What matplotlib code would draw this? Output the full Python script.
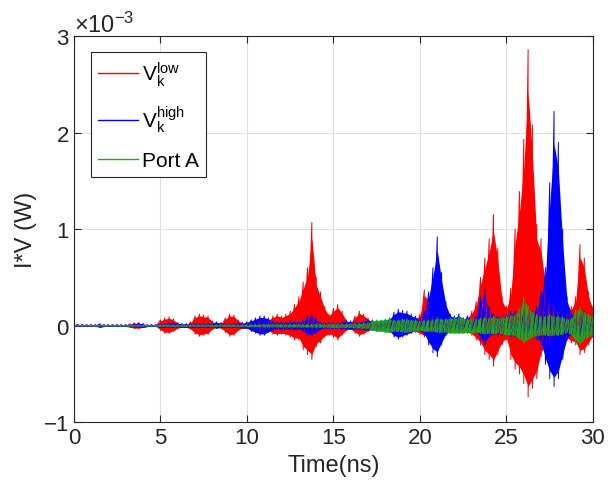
import matplotlib.pyplot as plt
import numpy as np
from matplotlib.ticker import ScalarFormatter
from matplotlib.lines import Line2D

# time axis (ns), envelope samples every 0.25 ns
t = np.arange(0, 30.01, 0.25)

# peak values, in units of 1e-3 W
red_hi = [0.00, 0.01, 0.01, 0.01,  0.01, 0.01, 0.01, 0.01,  0.01, 0.01, 0.01, 0.01,
          0.01, 0.02, 0.03, 0.03,  0.02, 0.01, 0.01, 0.01,  0.06, 0.08, 0.09, 0.07,
          0.03, 0.02, 0.02, 0.04,  0.10, 0.12, 0.11, 0.10,  0.05, 0.02, 0.03, 0.08,
          0.12, 0.11, 0.06, 0.03,  0.03, 0.04, 0.05, 0.06,  0.08, 0.07, 0.10, 0.12,
          0.10, 0.12, 0.15, 0.22,  0.30, 0.45, 0.60, 1.07,  0.50, 0.35, 0.20, 0.12,
          0.18, 0.22, 0.15, 0.06,  0.04, 0.10, 0.15, 0.12,  0.08, 0.04, 0.03, 0.03,
          0.03, 0.03, 0.04, 0.04,  0.04, 0.05, 0.06, 0.08,  0.12, 0.37, 0.30, 0.10,
          0.06, 0.05, 0.06, 0.05,  0.05, 0.06, 0.08, 0.10,  0.15, 0.25, 0.50, 0.70,
          0.90, 1.15, 0.80, 0.30,  0.20, 0.39, 1.00, 1.39,  1.93, 2.86, 2.08, 1.05,
          0.90, 0.50, 0.30, 0.20,  0.15, 0.12, 0.15, 0.20,  0.30, 0.84, 0.70, 0.35,
          0.20]
red_lo = [0.00, -0.01, -0.01, -0.01,  -0.01, -0.01, -0.01, -0.01,  -0.01, -0.01, -0.01, -0.01,
          -0.01, -0.02, -0.03, -0.03,  -0.02, -0.01, -0.01, -0.01,  -0.05, -0.08, -0.08, -0.06,
          -0.03, -0.02, -0.02, -0.04,  -0.09, -0.11, -0.10, -0.09,  -0.04, -0.02, -0.03, -0.07,
          -0.11, -0.10, -0.05, -0.03,  -0.03, -0.04, -0.05, -0.06,  -0.07, -0.06, -0.09, -0.10,
          -0.09, -0.10, -0.12, -0.15,  -0.15, -0.25, -0.30, -0.35,  -0.22, -0.18, -0.12, -0.10,
          -0.12, -0.15, -0.10, -0.05,  -0.04, -0.08, -0.11, -0.09,  -0.06, -0.04, -0.03, -0.03,
          -0.03, -0.03, -0.04, -0.04,  -0.04, -0.05, -0.06, -0.07,  -0.09, -0.12, -0.10, -0.06,
          -0.05, -0.05, -0.05, -0.05,  -0.05, -0.06, -0.07, -0.08,  -0.10, -0.15, -0.20, -0.30,
          -0.35, -0.42, -0.30, -0.20,  -0.15, -0.35, -0.45, -0.50,  -0.60, -0.74, -0.65, -0.55,
          -0.32, -0.25, -0.20, -0.15,  -0.12, -0.12, -0.15, -0.18,  -0.20, -0.30, -0.28, -0.20,
          -0.12]
blue_hi = [0.00, 0.01, 0.01, 0.01,  0.01, 0.01, 0.02, 0.01,  0.01, 0.01, 0.01, 0.01,
           0.01, 0.01, 0.02, 0.03,  0.02, 0.01, 0.01, 0.01,  0.02, 0.02, 0.03, 0.03,
           0.03, 0.02, 0.02, 0.02,  0.02, 0.02, 0.02, 0.02,  0.03, 0.04, 0.03, 0.02,
           0.02, 0.02, 0.03, 0.03,  0.04, 0.06, 0.08, 0.10,  0.10, 0.08, 0.05, 0.04,
           0.04, 0.04, 0.05, 0.05,  0.04, 0.06, 0.10, 0.11,  0.08, 0.04, 0.03, 0.03,
           0.03, 0.03, 0.04, 0.05,  0.05, 0.04, 0.04, 0.05,  0.06, 0.06, 0.05, 0.05,
           0.06, 0.08, 0.14, 0.17,  0.16, 0.15, 0.12, 0.10,  0.08, 0.15, 0.35, 0.60,
           0.92, 0.55, 0.25, 0.12,  0.10, 0.12, 0.08, 0.10,  0.08, 0.10, 0.30, 0.37,
           0.20, 0.12, 0.10, 0.10,  0.12, 0.15, 0.15, 0.15,  0.15, 0.15, 0.15, 0.20,
           0.35, 0.60, 1.48, 2.22,  1.90, 1.00, 0.30, 0.15,  0.12, 0.12, 0.15, 0.12,
           0.10]
blue_lo = [0.00, -0.01, -0.01, -0.01,  -0.01, -0.01, -0.02, -0.01,  -0.01, -0.01, -0.01, -0.01,
           -0.01, -0.01, -0.02, -0.02,  -0.02, -0.01, -0.01, -0.01,  -0.02, -0.02, -0.02, -0.02,
           -0.02, -0.02, -0.02, -0.02,  -0.02, -0.02, -0.02, -0.02,  -0.02, -0.03, -0.02, -0.02,
           -0.02, -0.02, -0.02, -0.03,  -0.03, -0.06, -0.08, -0.10,  -0.10, -0.07, -0.05, -0.04,
           -0.04, -0.04, -0.04, -0.05,  -0.04, -0.06, -0.10, -0.11,  -0.08, -0.04, -0.03, -0.03,
           -0.03, -0.03, -0.04, -0.04,  -0.04, -0.04, -0.04, -0.05,  -0.05, -0.05, -0.05, -0.05,
           -0.05, -0.07, -0.12, -0.14,  -0.12, -0.10, -0.08, -0.06,  -0.06, -0.10, -0.20, -0.28,
           -0.32, -0.20, -0.10, -0.07,  -0.06, -0.07, -0.05, -0.05,  -0.05, -0.06, -0.15, -0.20,
           -0.12, -0.10, -0.10, -0.10,  -0.10, -0.12, -0.12, -0.12,  -0.12, -0.12, -0.12, -0.15,
           -0.20, -0.40, -0.55, -0.63,  -0.55, -0.35, -0.15, -0.10,  -0.10, -0.10, -0.12, -0.10,
           -0.08]
green_hi = [0.00, 0.005, 0.005, 0.005,  0.005, 0.005, 0.005, 0.005,  0.005, 0.005, 0.005, 0.005,
            0.005, 0.005, 0.005, 0.005,  0.005, 0.005, 0.005, 0.005,  0.008, 0.008, 0.008, 0.008,
            0.008, 0.008, 0.008, 0.008,  0.008, 0.008, 0.008, 0.008,  0.010, 0.010, 0.010, 0.010,
            0.010, 0.010, 0.010, 0.010,  0.012, 0.012, 0.012, 0.012,  0.015, 0.015, 0.015, 0.015,
            0.015, 0.015, 0.015, 0.015,  0.015, 0.015, 0.015, 0.015,  0.018, 0.018, 0.018, 0.018,
            0.020, 0.020, 0.020, 0.020,  0.020, 0.025, 0.025, 0.030,  0.030, 0.050, 0.060, 0.060,
            0.070, 0.070, 0.060, 0.060,  0.070, 0.070, 0.060, 0.060,  0.050, 0.060, 0.060, 0.060,
            0.080, 0.070, 0.070, 0.080,  0.080, 0.090, 0.080, 0.070,  0.080, 0.070, 0.080, 0.090,
            0.080, 0.100, 0.080, 0.090,  0.100, 0.110, 0.120, 0.170,  0.290, 0.200, 0.140, 0.120,
            0.100, 0.100, 0.120, 0.100,  0.100, 0.090, 0.070, 0.080,  0.160, 0.190, 0.140, 0.120,
            0.100]
green_lo = [0.00, -0.005, -0.005, -0.005,  -0.005, -0.005, -0.005, -0.005,  -0.005, -0.005, -0.005, -0.005,
            -0.005, -0.005, -0.005, -0.005,  -0.005, -0.005, -0.005, -0.005,  -0.008, -0.008, -0.008, -0.008,
            -0.008, -0.008, -0.008, -0.008,  -0.008, -0.008, -0.008, -0.008,  -0.010, -0.010, -0.010, -0.010,
            -0.010, -0.010, -0.010, -0.010,  -0.012, -0.012, -0.012, -0.012,  -0.015, -0.015, -0.015, -0.015,
            -0.015, -0.015, -0.015, -0.015,  -0.015, -0.015, -0.015, -0.015,  -0.018, -0.018, -0.018, -0.018,
            -0.020, -0.020, -0.020, -0.020,  -0.020, -0.025, -0.025, -0.030,  -0.030, -0.050, -0.060, -0.060,
            -0.070, -0.070, -0.060, -0.060,  -0.070, -0.070, -0.060, -0.060,  -0.050, -0.060, -0.060, -0.060,
            -0.070, -0.070, -0.070, -0.080,  -0.080, -0.080, -0.080, -0.070,  -0.080, -0.070, -0.080, -0.090,
            -0.080, -0.090, -0.080, -0.090,  -0.100, -0.100, -0.110, -0.140,  -0.180, -0.150, -0.120, -0.110,
            -0.100, -0.100, -0.110, -0.100,  -0.100, -0.090, -0.070, -0.100,  -0.160, -0.200, -0.140, -0.120,
            -0.100]

labels = [r'V$\mathregular{_k^{low}}$', r'V$\mathregular{_k^{high}}$', 'Port A']
colors = ['#ff0000', '#0000ff', '#1fa81f']
fill_frac = [0.85, 0.85, 0.95]

plt.rcParams['font.family'] = ['Liberation Sans', 'DejaVu Sans']
plt.rcParams['mathtext.fontset'] = 'custom'
plt.rcParams['mathtext.rm'] = 'Liberation Sans'
plt.rcParams['axes.unicode_minus'] = False


def zigzag(hi, lo):
    # each sample drawn as a stroke from its upper to its lower peak
    tz = np.repeat(t, 2)
    yz = np.column_stack([hi, lo]).ravel() * 1e-3
    return tz, yz


fig = plt.figure(figsize=(6.08, 5.02), dpi=100)
ax = fig.add_axes([0.1217, 0.157, 0.8536, 0.769])

series = [(red_hi, red_lo), (blue_hi, blue_lo), (green_hi, green_lo)]
for (hi, lo), c, f in zip(series, colors, fill_frac):
    ax.fill_between(t, np.array(lo) * f * 1e-3, np.array(hi) * f * 1e-3, color=c, lw=0)
    tz, yz = zigzag(hi, lo)
    ax.plot(tz, yz, '-', color=c, lw=0.7)

ax.set_xlim(0, 30)
ax.set_ylim(-1e-3, 3e-3)
ax.set_xticks([0, 5, 10, 15, 20, 25, 30])
ax.set_yticks([-1e-3, 0, 1e-3, 2e-3, 3e-3])
fmt = ScalarFormatter(useMathText=True)
fmt.set_powerlimits((-2, 2))
ax.yaxis.set_major_formatter(fmt)
ax.yaxis.get_offset_text().set_fontsize(17)

ax.grid(True, color='#dedede', lw=0.8)
ax.set_axisbelow(True)
for s in ax.spines.values():
    s.set_color('#262626')
    s.set_linewidth(0.8)
ax.tick_params(direction='in', top=True, right=True, length=5, labelsize=16, colors='#262626')

ax.set_xlabel('Time(ns)', fontsize=17, color='#262626')
ax.set_ylabel('I*V (W)', fontsize=17, color='#262626')

handles = [Line2D([], [], color=c, lw=1.0) for c in colors]
leg = ax.legend(handles, labels, loc='upper left', bbox_to_anchor=(0.012, 0.985), fontsize=15,
                handlelength=1.9, handletextpad=0.2, labelspacing=0.75, borderpad=0.35,
                fancybox=False, framealpha=1, edgecolor='#262626')
leg.get_frame().set_linewidth(0.8)

fig.savefig('out.png', dpi=100)
